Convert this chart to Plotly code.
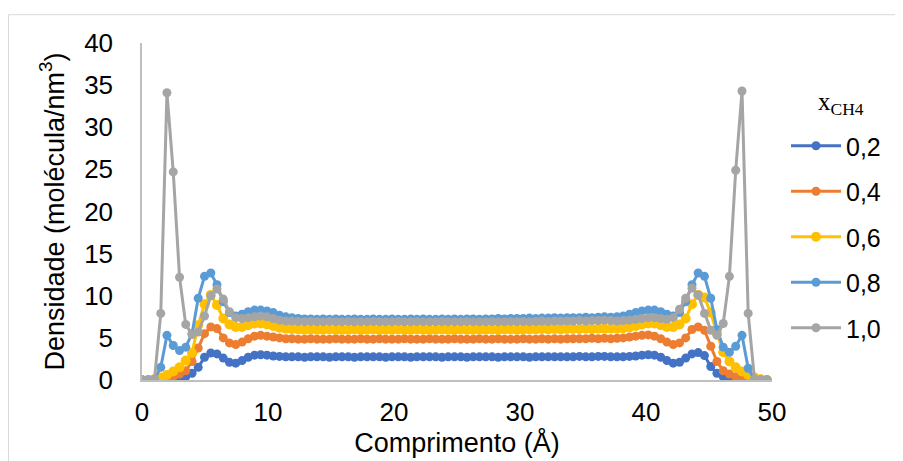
import plotly.graph_objects as go

# x positions (Å)
comprimento = [
    0.00, 0.50, 0.99, 1.49, 1.98, 2.48, 2.98, 3.47, 3.97, 4.46,
    4.96, 5.46, 5.95, 6.45, 6.94, 7.44, 7.94, 8.43, 8.93, 9.42,
    9.92, 10.42, 10.91, 11.41, 11.90, 12.40, 12.90, 13.39, 13.89, 14.38,
    14.88, 15.38, 15.87, 16.37, 16.86, 17.36, 17.86, 18.35, 18.85, 19.34,
    19.84, 20.34, 20.83, 21.33, 21.82, 22.32, 22.82, 23.31, 23.81, 24.30,
    24.80, 25.30, 25.79, 26.29, 26.78, 27.28, 27.78, 28.27, 28.77, 29.26,
    29.76, 30.26, 30.75, 31.25, 31.74, 32.24, 32.74, 33.23, 33.73, 34.22,
    34.72, 35.22, 35.71, 36.21, 36.70, 37.20, 37.70, 38.19, 38.69, 39.18,
    39.68, 40.18, 40.67, 41.17, 41.66, 42.16, 42.66, 43.15, 43.65, 44.14,
    44.64, 45.14, 45.63, 46.13, 46.62, 47.12, 47.62, 48.11, 48.61, 49.10,
    49.60,
]

dens_02 = [
    0, 0, 0, 0, 0.1, 0.1, 0.2, 0.4, 0.8, 1.5,
    2.7, 3.2, 3.1, 2.6, 2.1, 2.0, 2.3, 2.7, 2.95, 3.0,
    2.95, 2.85, 2.8, 2.75, 2.75, 2.75, 2.7, 2.75, 2.75, 2.75,
    2.7, 2.75, 2.75, 2.75, 2.7, 2.75, 2.75, 2.75, 2.75, 2.7,
    2.75, 2.75, 2.75, 2.7, 2.75, 2.75, 2.75, 2.75, 2.7, 2.75,
    2.75, 2.75, 2.7, 2.75, 2.75, 2.75, 2.75, 2.7, 2.75, 2.75,
    2.75, 2.75, 2.7, 2.75, 2.75, 2.75, 2.75, 2.75, 2.75, 2.75,
    2.8, 2.75, 2.75, 2.8, 2.8, 2.75, 2.75, 2.75, 2.8, 2.85,
    2.95, 3.0, 2.95, 2.7, 2.3, 2.0, 2.1, 2.6, 3.1, 3.25,
    2.9, 1.6, 0.8, 0.4, 0.2, 0.1, 0.1, 0, 0, 0,
    0,
]

dens_04 = [
    0, 0, 0, 0.1, 0.2, 0.4, 0.7, 1.1, 2.2, 3.8,
    5.5, 6.3, 6.1, 5.0, 4.4, 4.2, 4.5, 4.9, 5.2, 5.3,
    5.2, 5.1, 5.0, 4.9, 4.9, 4.85, 4.85, 4.9, 4.85, 4.85,
    4.85, 4.9, 4.85, 4.85, 4.85, 4.9, 4.85, 4.85, 4.9, 4.85,
    4.85, 4.85, 4.9, 4.85, 4.85, 4.85, 4.9, 4.85, 4.85, 4.85,
    4.9, 4.85, 4.85, 4.85, 4.9, 4.85, 4.85, 4.9, 4.85, 4.85,
    4.85, 4.9, 4.85, 4.85, 4.9, 4.85, 4.9, 4.85, 4.9, 4.9,
    4.9, 4.9, 4.95, 4.9, 4.95, 4.9, 4.95, 5.0, 5.1, 5.2,
    5.3, 5.35, 5.2, 4.9, 4.5, 4.2, 4.4, 5.0, 6.0, 6.3,
    5.9, 4.0, 2.2, 1.1, 0.7, 0.4, 0.2, 0.1, 0, 0,
    0,
]

dens_06 = [
    0, 0, 0.1, 0.3, 0.6, 1.0, 1.5, 2.3, 3.2, 6.5,
    9.0, 10.1, 8.9, 7.3, 6.6, 6.3, 6.3, 6.5, 6.7, 6.7,
    6.6, 6.4, 6.2, 6.1, 6.05, 6.0, 5.95, 6.0, 5.95, 5.95,
    6.0, 5.95, 5.95, 5.95, 6.0, 5.95, 5.95, 6.0, 5.95, 5.95,
    5.95, 6.0, 5.95, 5.95, 6.0, 5.95, 5.95, 5.95, 6.0, 5.95,
    5.95, 6.0, 5.95, 5.95, 6.0, 5.95, 6.0, 5.95, 6.0, 6.0,
    5.95, 6.0, 6.0, 6.0, 6.05, 6.0, 6.05, 6.0, 6.05, 6.05,
    6.05, 6.1, 6.05, 6.1, 6.1, 6.1, 6.1, 6.15, 6.25, 6.4,
    6.6, 6.7, 6.7, 6.5, 6.3, 6.3, 6.6, 7.3, 9.0, 10.1,
    9.8, 8.0, 5.5, 3.3, 2.2, 1.5, 1.0, 0.6, 0.3, 0.1,
    0,
]

dens_08 = [
    0, 0, 0.1, 1.5, 5.3, 4.1, 3.5, 3.9, 5.5, 9.7,
    12.3, 12.7, 11.3, 9.3, 8.0, 7.6, 7.8, 8.1, 8.3, 8.3,
    8.2, 8.0, 7.7, 7.5, 7.4, 7.3, 7.25, 7.25, 7.2, 7.25,
    7.2, 7.25, 7.2, 7.2, 7.25, 7.2, 7.2, 7.25, 7.2, 7.2,
    7.25, 7.2, 7.2, 7.25, 7.2, 7.25, 7.2, 7.2, 7.25, 7.2,
    7.25, 7.2, 7.25, 7.25, 7.2, 7.25, 7.25, 7.3, 7.25, 7.3,
    7.3, 7.3, 7.35, 7.3, 7.35, 7.35, 7.4, 7.35, 7.4, 7.4,
    7.4, 7.45, 7.4, 7.45, 7.5, 7.45, 7.5, 7.6, 7.8, 8.0,
    8.2, 8.3, 8.3, 8.1, 7.8, 7.6, 8.0, 9.3, 11.3, 12.7,
    12.3, 9.7, 6.0, 3.9, 3.3, 4.0, 5.3, 1.4, 0.1, 0,
    0,
]

dens_10 = [
    0, 0, 0.1, 7.9, 34.1, 24.7, 12.2, 6.6, 5.4, 5.7,
    7.6, 10.0, 10.8, 9.6, 8.1, 7.4, 7.3, 7.4, 7.5, 7.6,
    7.5, 7.3, 7.1, 7.0, 7.0, 6.95, 6.9, 6.95, 6.9, 6.9,
    6.95, 6.9, 6.9, 6.95, 6.9, 6.9, 6.9, 6.95, 6.9, 6.9,
    6.9, 6.95, 6.9, 6.9, 6.95, 6.9, 6.9, 6.9, 6.95, 6.9,
    6.9, 6.9, 6.95, 6.9, 6.9, 6.9, 6.95, 6.9, 6.9, 6.95,
    6.9, 6.95, 6.9, 6.95, 7.0, 6.95, 7.0, 7.0, 7.0, 7.0,
    7.05, 7.0, 7.05, 7.05, 7.1, 7.05, 7.0, 7.05, 7.1, 7.2,
    7.3, 7.4, 7.4, 7.3, 7.2, 7.4, 8.4, 9.7, 10.9, 10.1,
    7.9, 5.9, 5.3, 6.7, 12.3, 24.9, 34.3, 7.9, 0.1, 0,
    0,
]

series_names = ["0,2", "0,4", "0,6", "0,8", "1,0"]
series_values = [dens_02, dens_04, dens_06, dens_08, dens_10]
series_colors = ["#4472C4", "#ED7D31", "#FFC000", "#5B9BD5", "#A5A5A5"]
marker_sizes = [9, 9, 10, 9, 9]

x_ticks = [0, 10, 20, 30, 40, 50]
y_ticks = [0, 5, 10, 15, 20, 25, 30, 35, 40]

fig = go.Figure()
for name, vals, col, ms in zip(series_names, series_values, series_colors, marker_sizes):
    fig.add_trace(go.Scatter(
        x=comprimento, y=vals, name=name, mode="lines+markers",
        legendgroup=name,
        line=dict(color=col, width=3),
        marker=dict(color=col, size=ms, symbol="circle"),
    ))

font_main = "Liberation Sans, Arial, sans-serif"
# the page body adds an 8px offset; margins compensate for it
OFF = 8
PL, PR, PT, PB = 142 - OFF, 131 + OFF, 43 - OFF, 81 + OFF
PW, PH = 903 - PL - PR, 461 - PT - PB
Y0 = 380  # screen y of the x-axis in the target


def py(screen_y):
    return (Y0 - screen_y) / PH


def px(screen_x):
    return (screen_x - 142) / PW


fig.update_layout(
    width=903, height=461,
    margin=dict(l=PL, r=PR, t=PT, b=PB, autoexpand=False),
    paper_bgcolor="white", plot_bgcolor="white",
    font=dict(family=font_main, color="#000000", size=26),
    showlegend=True,
    legend=dict(
        x=px(786), y=py(123),
        xanchor="left", yanchor="top",
        traceorder="grouped", tracegroupgap=10,
        itemwidth=50,
        font=dict(family=font_main, size=25, color="#000000"),
        bgcolor="rgba(0,0,0,0)",
    ),
    annotations=[dict(
        text="x<sub>CH4</sub>", xref="paper", yref="paper",
        x=px(841), y=py(103), xanchor="center", yanchor="middle",
        showarrow=False,
        font=dict(family="Liberation Serif, Times New Roman, serif", size=25, color="#000000"),
    )],
    xaxis=dict(
        range=[0, 50], tickvals=x_ticks, ticktext=[str(v) for v in x_ticks],
        showgrid=False, zeroline=False, automargin=False,
        showline=True, linecolor="#BFBFBF", linewidth=1.5,
        ticks="", ticklabelstandoff=8,
        tickfont=dict(size=26),
        title=dict(text="Comprimento (Å)", font=dict(size=27), standoff=4),
    ),
    yaxis=dict(
        range=[0, 40], tickvals=y_ticks, ticktext=[str(v) for v in y_ticks],
        showgrid=False, zeroline=False, automargin=False,
        showline=True, linecolor="#BFBFBF", linewidth=1.5,
        ticks="", ticklabelstandoff=22,
        tickfont=dict(size=26),
        title=dict(text="Densidade (molécula/nm<sup>3</sup>)", font=dict(size=27), standoff=12),
    ),
    shapes=[dict(
        type="rect", xref="paper", yref="paper",
        x0=px(8.5), x1=px(930),
        y0=py(490), y1=py(14.7),
        line=dict(color="#D9D9D9", width=1), fillcolor="rgba(0,0,0,0)", layer="below",
    )],
)

fig.write_html("out.html")
